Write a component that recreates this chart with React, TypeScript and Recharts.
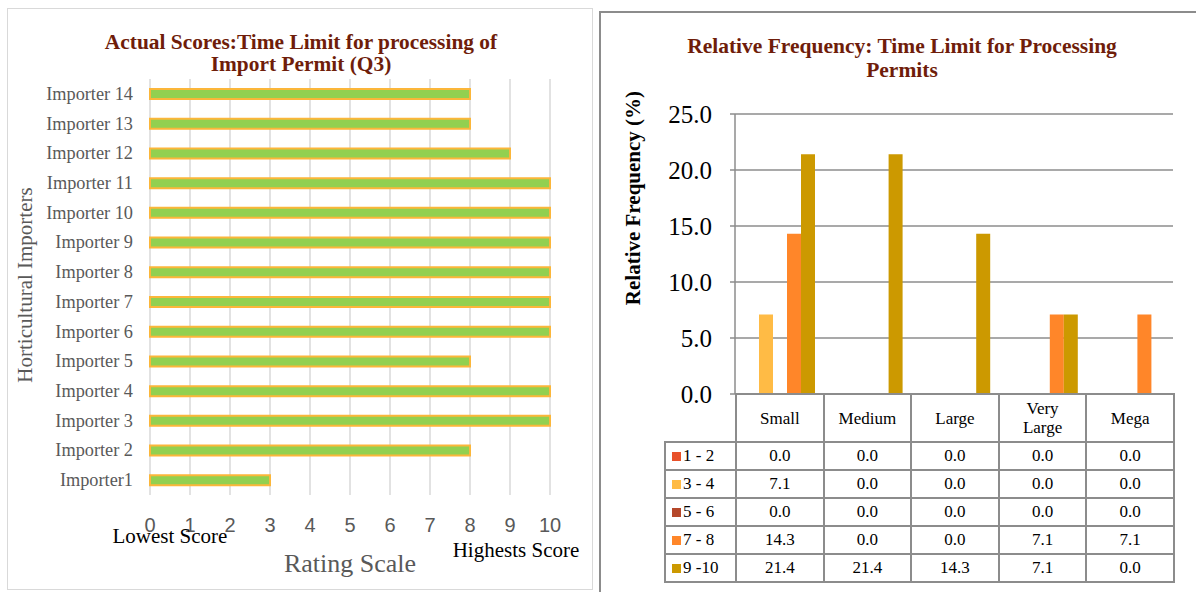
import React from 'react';
import { BarChart, Bar, XAxis, YAxis, CartesianGrid } from 'recharts';

const importers = ['Importer1', 'Importer 2', 'Importer 3', 'Importer 4', 'Importer 5', 'Importer 6', 'Importer 7', 'Importer 8', 'Importer 9', 'Importer 10', 'Importer 11', 'Importer 12', 'Importer 13', 'Importer 14'];
const scores = [3, 8, 10, 10, 8, 10, 10, 10, 10, 10, 10, 9, 8, 8];
const ratingTicks = [0, 1, 2, 3, 4, 5, 6, 7, 8, 9, 10];

const sizeCategories = ['Small', 'Medium', 'Large', 'Very Large', 'Mega'];
const bandLabels = ['1 - 2', '3 - 4', '5 - 6', '7 - 8', '9 -10'];
const band12 = [0.0, 0.0, 0.0, 0.0, 0.0];
const band34 = [7.1, 0.0, 0.0, 0.0, 0.0];
const band56 = [0.0, 0.0, 0.0, 0.0, 0.0];
const band78 = [14.3, 0.0, 0.0, 7.1, 7.1];
const band910 = [21.4, 21.4, 14.3, 7.1, 0.0];
const freqTicks = [0, 5, 10, 15, 20, 25];
const bandColors = ['#e8512a', '#ffbb45', '#b5472a', '#ff8629', '#cc9900'];

const bandSeries = [band12, band34, band56, band78, band910];

const scoreData = importers.map((name, i) => ({ name, score: scores[i] }));
const freqData = sizeCategories.map((cat, i) => {
  const row: any = { cat };
  bandSeries.forEach((s, j) => { row['b' + j] = s[i]; });
  return row;
});

const SERIF = '"Liberation Serif", "Times New Roman", serif';
const SANS = '"Liberation Sans", Arial, sans-serif';
const TITLE_COLOR = '#6f1d0a';

const LeftYTick = (p: any) => (
  <text x={p.x} y={p.y} textAnchor="end" dominantBaseline="central" fontFamily={SERIF} fontSize={18.3} fill="#595959">
    {p.payload.value}
  </text>
);
const LeftXTick = (p: any) => (
  <text x={p.x} y={p.y} textAnchor="middle" dominantBaseline="central" fontFamily={SANS} fontSize={20} fill="#595959">
    {p.payload.value}
  </text>
);
const RightYTick = (p: any) => (
  <text x={p.x} y={p.y} textAnchor="end" dominantBaseline="central" fontFamily={SERIF} fontSize={25} fill="#000">
    {Number(p.payload.value).toFixed(1)}
  </text>
);

const cellBorder = '2px solid #8c8c8c';

export default function App() {
  return (
    <div style={{ position: 'absolute', left: 0, top: 0, width: 1196, height: 592, overflow: 'hidden', background: '#fff' }}>
      {/* left panel border */}
      <div style={{ position: 'absolute', left: 7, top: 8, width: 584, height: 580, border: '1.5px solid #d9d9d9' }} />
      {/* right panel border */}
      <div style={{ position: 'absolute', left: 599, top: 11, width: 700, height: 700, border: '2px solid #8c8c8c' }} />

      <div style={{ position: 'absolute', left: 0, top: 0 }}>
        <BarChart
          width={593}
          height={592}
          data={scoreData}
          layout="vertical"
          margin={{ top: 79, right: 43, left: 0, bottom: 0 }}
          barSize={10}
        >
          <CartesianGrid horizontal={false} stroke="#d9d9d9" strokeWidth={1.5} />
          <XAxis
            type="number"
            domain={[0, 10]}
            ticks={ratingTicks}
            interval={0}
            height={97}
            axisLine={false}
            tickLine={false}
            tickSize={0}
            tickMargin={30}
            tick={(p: any) => <LeftXTick {...p} />}
          />
          <YAxis
            type="category"
            dataKey="name"
            reversed
            width={150}
            axisLine={false}
            tickLine={false}
            tickSize={0}
            tickMargin={17}
            interval={0}
            tick={(p: any) => <LeftYTick {...p} />}
          />
          <Bar dataKey="score" fill="#92d050" stroke="#fbb63a" strokeWidth={2} isAnimationActive={false} />
        </BarChart>
      </div>

      <div style={{ position: 'absolute', left: 600, top: 0 }}>
        <BarChart
          width={596}
          height={592}
          data={freqData}
          margin={{ top: 114, right: 23, left: 0, bottom: 198 }}
          barCategoryGap={10}
          barGap={0}
        >
          <CartesianGrid vertical={false} stroke="#8c8c8c" strokeWidth={1.5} />
          <XAxis dataKey="cat" hide />
          <YAxis
            type="number"
            domain={[0, 25]}
            ticks={freqTicks}
            interval={0}
            width={135}
            axisLine={{ stroke: '#8c8c8c', strokeWidth: 1.5 }}
            tickLine={{ stroke: '#8c8c8c', strokeWidth: 1.5 }}
            tickSize={5}
            tickMargin={18}
            tick={(p: any) => <RightYTick {...p} />}
          />
          {bandSeries.map((_, j) => (
            <Bar key={j} dataKey={'b' + j} name={bandLabels[j]} fill={bandColors[j]} isAnimationActive={false} />
          ))}
        </BarChart>
      </div>

      {/* data table */}
      <table
        style={{
          position: 'absolute',
          left: 664,
          top: 393,
          borderCollapse: 'collapse',
          tableLayout: 'fixed',
          fontFamily: SERIF,
          fontSize: 17,
          color: '#000',
        }}
      >
        <colgroup>
          <col style={{ width: 71 }} />
          {sizeCategories.map((c) => (
            <col key={c} style={{ width: 87.6 }} />
          ))}
        </colgroup>
        <tbody>
          <tr style={{ height: 48 }}>
            <td style={{ border: 'none', padding: 0 }} />
            {sizeCategories.map((c) => (
              <td key={c} style={{ border: cellBorder, textAlign: 'center', padding: '0 4px', lineHeight: '19px' }}>
                {c === 'Very Large' ? (
                  <span>Very<br />Large</span>
                ) : (
                  c
                )}
              </td>
            ))}
          </tr>
          {bandSeries.map((s, j) => (
            <tr key={j} style={{ height: 28 }}>
              <td style={{ border: cellBorder, padding: '0 0 0 6px', whiteSpace: 'nowrap' }}>
                <span style={{ display: 'inline-block', width: 9, height: 9, background: bandColors[j], marginRight: 2, verticalAlign: 'middle', position: 'relative', top: -1 }} />
                {bandLabels[j]}
              </td>
              {s.map((v, i) => (
                <td key={i} style={{ border: cellBorder, textAlign: 'center', padding: 0 }}>
                  {v.toFixed(1)}
                </td>
              ))}
            </tr>
          ))}
        </tbody>
      </table>

      {/* text overlay */}
      <svg width={1196} height={592} style={{ position: 'absolute', left: 0, top: 0, pointerEvents: 'none' }}>
        <text x={301} y={42} textAnchor="middle" dominantBaseline="central" fontFamily={SERIF} fontWeight="bold" fontSize={21.4} fill={TITLE_COLOR}>
          Actual Scores:Time Limit for processing of
        </text>
        <text x={301} y={64} textAnchor="middle" dominantBaseline="central" fontFamily={SERIF} fontWeight="bold" fontSize={21.4} fill={TITLE_COLOR}>
          Import Permit (Q3)
        </text>
        <text x={25} y={285} transform="rotate(-90 25 285)" textAnchor="middle" dominantBaseline="central" fontFamily={SERIF} fontSize={21} fill="#595959">
          Horticultural Importers
        </text>
        <text x={170} y={536} textAnchor="middle" dominantBaseline="central" fontFamily={SERIF} fontSize={21} fill="#000">
          Lowest Score
        </text>
        <text x={516} y={550} textAnchor="middle" dominantBaseline="central" fontFamily={SERIF} fontSize={21} fill="#000">
          Highests Score
        </text>
        <text x={350} y={563} textAnchor="middle" dominantBaseline="central" fontFamily={SERIF} fontSize={26} fill="#595959">
          Rating Scale
        </text>

        <text x={902} y={46} textAnchor="middle" dominantBaseline="central" fontFamily={SERIF} fontWeight="bold" fontSize={21.5} fill={TITLE_COLOR}>
          Relative Frequency: Time Limit for Processing
        </text>
        <text x={902} y={70} textAnchor="middle" dominantBaseline="central" fontFamily={SERIF} fontWeight="bold" fontSize={21.5} fill={TITLE_COLOR}>
          Permits
        </text>
        <text x={633} y={198} transform="rotate(-90 633 198)" textAnchor="middle" dominantBaseline="central" fontFamily={SERIF} fontWeight="bold" fontSize={21} fill="#000">
          Relative Frequency (%)
        </text>
      </svg>
    </div>
  );
}
